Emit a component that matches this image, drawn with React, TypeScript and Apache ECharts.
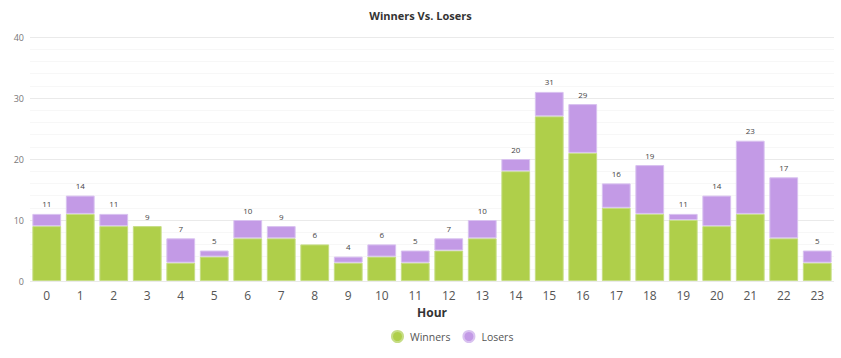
import React, { useEffect, useRef } from "react";
import * as echarts from "echarts";

const hours = ["0","1","2","3","4","5","6","7","8","9","10","11","12","13","14","15","16","17","18","19","20","21","22","23"];
const winners = [9, 11, 9, 9, 3, 4, 7, 7, 6, 3, 4, 3, 5, 7, 18, 27, 21, 12, 11, 10, 9, 11, 7, 3];
const losers = [2, 3, 2, 0, 4, 1, 3, 2, 0, 1, 2, 2, 2, 3, 2, 4, 8, 4, 8, 1, 5, 12, 10, 2];

export default function App() {
  const ref = useRef<HTMLDivElement>(null);
  useEffect(() => {
    if (!ref.current) return;
    const chart = echarts.init(ref.current, null, { renderer: "svg" });
    const totals = winners.map((w, i) => w + losers[i]);
    const font = "'Open Sans', sans-serif";
    chart.setOption({
      animation: false,
      textStyle: { fontFamily: font },
      title: {
        text: "Winners Vs. Losers",
        left: "center",
        top: 5,
        textStyle: { fontSize: 11, fontWeight: "bold", color: "#333", fontFamily: font },
      },
      legend: {
        top: 325,
        left: 386,
        icon: "circle",
        itemWidth: 11,
        itemHeight: 11,
        itemGap: 12,
        textStyle: { fontSize: 10.5, color: "#555", fontFamily: font, padding: [0, 0, 0, 2] },
        data: ["Winners", "Losers"],
      },
      grid: { left: 30, right: 7, top: 37, bottom: 77 },
      xAxis: {
        type: "category",
        data: hours,
        name: "Hour",
        nameLocation: "middle",
        nameGap: 25,
        nameTextStyle: { fontSize: 12, fontWeight: "bold", color: "#333", fontFamily: font },
        axisLine: { show: false },
        axisTick: { show: false },
        axisLabel: { fontSize: 12, color: "#555", margin: 8, fontFamily: font },
      },
      yAxis: {
        type: "value",
        min: 0,
        max: 40,
        interval: 10,
        axisLine: { show: false },
        axisTick: { show: false },
        axisLabel: { fontSize: 9, color: "#777", margin: 6, fontFamily: font },
        splitLine: { lineStyle: { color: "#eaeaea" } },
        minorTick: { show: false, splitNumber: 5 },
        minorSplitLine: { show: true, lineStyle: { color: "#f7f7f7" } },
      },
      series: [
        {
          name: "Winners",
          type: "bar",
          stack: "all",
          data: winners,
          barCategoryGap: "14%",
          itemStyle: { color: "#afcf4a", borderColor: "#c6dd85", borderWidth: 1 },
        },
        {
          name: "Losers",
          type: "bar",
          stack: "all",
          data: losers.map((v) => (v === 0 ? { value: 0, itemStyle: { borderWidth: 0 } } : v)),
          barCategoryGap: "14%",
          itemStyle: { color: "#c39ae6", borderColor: "#d9c2f0", borderWidth: 1 },
          label: {
            show: true,
            position: "top",
            distance: 6,
            fontSize: 8,
            color: "#444",
            fontFamily: font,
            formatter: (p: any) => String(totals[p.dataIndex]),
          },
        },
      ],
    });
    return () => chart.dispose();
  }, []);
  return <div ref={ref} style={{ position: "absolute", left: 0, top: 0, width: 841, height: 358 }} />;
}
